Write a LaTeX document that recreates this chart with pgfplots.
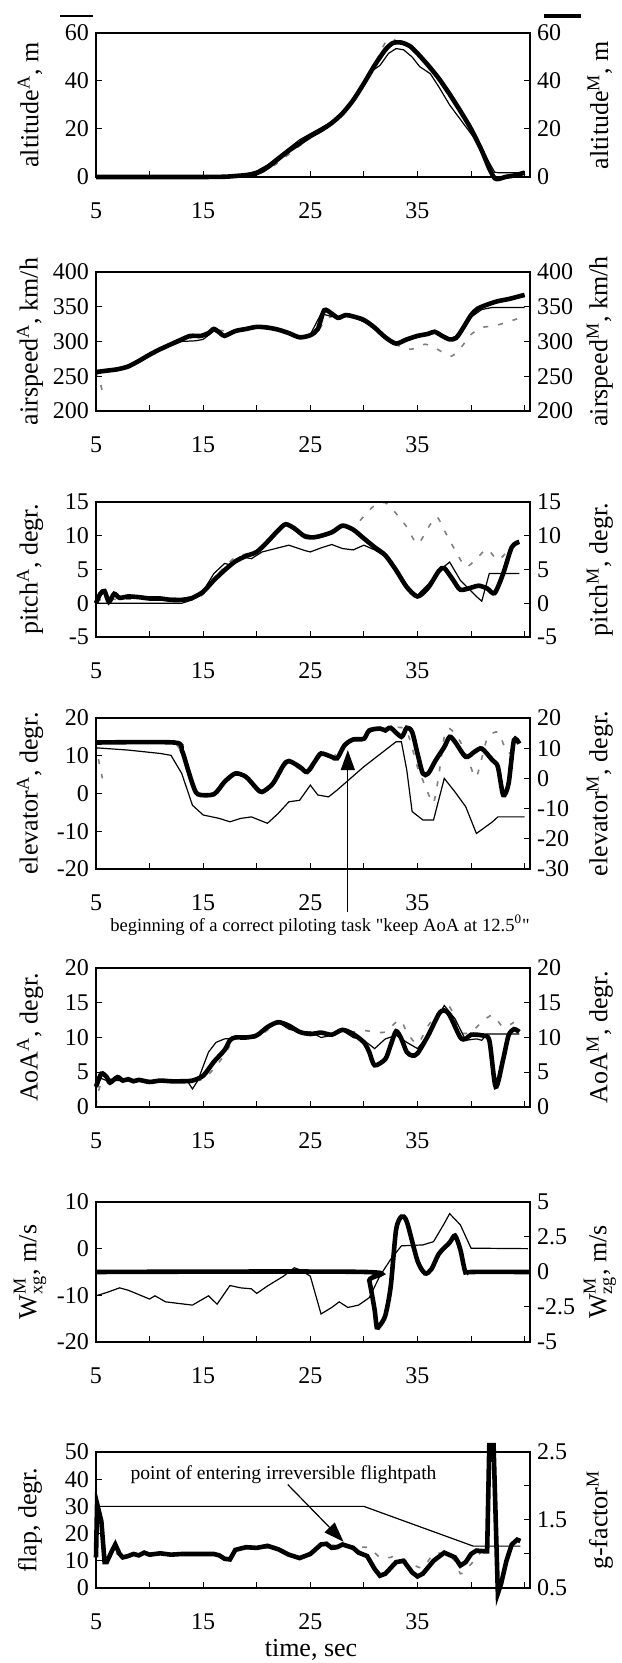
\documentclass[border=0pt]{standalone}
\usepackage{fontspec}
\setmainfont{Liberation Serif}
\usepackage{amsmath}
\usepackage{pgfplots}
\pgfplotsset{compat=1.18}
\usetikzlibrary{arrows.meta}

\pgfplotsset{
  base/.style={scale only axis, width=217pt, anchor=south west,
    xmin=5, xmax=45.5, clip=false, unbounded coords=jump,
    tick align=inside, major tick length=3pt, minor tick length=3pt,
    axis line style={line width=0.6pt},
    every tick/.append style={black, line width=0.5pt},
    ticklabel style={font=\fontsize{12}{14}\selectfont},
    label style={font=\fontsize{13}{15}\selectfont},
    /pgf/number format/assume math mode=true},
  panelL/.style={base, xtick={5,15,25,35}, minor xtick={10,20,30,40,45},
    xtick pos=lower, ytick pos=lower, yticklabel pos=lower,
    xticklabel style={yshift=-9.5pt},
    ylabel style={at={(axis description cs:-0.152,0.5)}, anchor=center}},
  panelR/.style={base, xtick=\empty, ytick pos=upper, yticklabel pos=upper,
    ylabel style={at={(axis description cs:1.161,0.5)}, anchor=center}},
  thickln/.style={black, line width=2.3pt, smooth, tension=0.45},
  thinln/.style={black, line width=0.6pt},
  dashln/.style={gray, line width=0.8pt, dash pattern=on 2.5pt off 5pt, smooth, tension=0.45},
}

\begin{document}
\begin{tikzpicture}

% legend samples above the first panel
\draw[line width=0.6pt] (30pt,823.5pt) -- (46.5pt,823.5pt);
\draw[line width=2.3pt] (272pt,823.5pt) -- (290.5pt,823.5pt);

% ---------- altitude
\begin{axis}[panelL, at={(48pt,743pt)}, height=72pt, ymin=0, ymax=60, ytick={0,20,40,60},
  ylabel={altitude\textsuperscript{A}, m}]
\addplot[dashln] coordinates {(5,0)(17,0)(19,0.5)(20,1)(21,3)(22,6)(23,9.5)(24,13)(25,16.5)(26,19)(27,22)(28,26)(29,31)(30,38)(31,47)(32,56)(32.6,57.5)(33.3,56)(34,54.5)};
\addplot[thinln] coordinates {(5,0)(17,0)(18,0.5)(19,1.2)(20,2.5)(21,5)(22,8.5)(23,12)(24,15.5)(25,18)(26,20.5)(27,23)(28,27)(29,32)(30,38.5)(30.7,44)(31.5,46.5)(32.3,51.5)(33,53.5)(33.7,53)(34.5,50)(35.2,46)(36.2,43)(37,37.5)(38,30)(39,24)(40,18)(41,12)(41.7,6)(42.2,2)(42.5,1.8)(45,1.8)};
\addplot[thickln] coordinates {(5,0)(10,0)(15,0)(17,0.1)(18,0.4)(19,0.8)(20,1.6)(21,4)(22,7.5)(23,11)(24,14)(25,17)(26,19.5)(27,22.5)(28,26.5)(29,32)(30,39)(31,46.5)(32,53)(32.7,55.8)(33.5,56)(34.3,54.5)(35,51.5)(36,46.5)(37,41)(38,34.5)(39,27.5)(40,20)(41,11)(41.7,3.5)(42.2,-0.5)(42.6,-0.8)(43.2,0)(44,0.6)(45,1.8)};
\end{axis}
\begin{axis}[panelR, at={(48pt,743pt)}, height=72pt, ymin=0, ymax=60, ytick={0,20,40,60},
  ylabel={altitude\textsuperscript{M}, m}]
\end{axis}

% ---------- airspeed
\begin{axis}[panelL, at={(48pt,626pt)}, height=69.5pt, ymin=200, ymax=400, ytick={200,250,...,400},
  ylabel={airspeed\textsuperscript{A}, km/h}]
\addplot[dashln] coordinates {(5,258)(5.4,240)(5.7,222)(nan,nan)(6,258)(8,264)(10,280)(12,294)(14,306)(16,316)(18,314)(20,320)(22,316)(24,306)(25.5,312)(26.3,328)(27,336)(29,336)(31,318)(32.5,300)(34,289)(35,291)(35.7,296)(36.5,292)(37.5,283)(38.2,279)(39,290)(40,310)(41,320)(42,322)(43,326)(44,331)(45,336)};
\addplot[thinln] coordinates {(5,256)(7,259)(9,270)(11,289)(13,300)(14.3,301)(15,303)(16,315)(17,308)(18,315)(20,320)(22,317)(24,306)(25,310)(26,340)(27,336)(29,336)(31,320)(33,296)(35,306)(36.6,313)(38,304)(39,310)(40,335)(41,346)(42,349)(45,349)};
\addplot[thickln] coordinates {(5,256)(6,258)(7,260)(8,264)(9,272)(10,281)(11,289)(12,296)(13,303)(13.8,308)(14.8,308)(15.5,312)(16,318)(16.6,312)(17,308)(18,315)(19,318)(20,321)(21,320)(22,317)(23,312)(24,306)(25,309)(25.7,318)(26.3,345)(27,340)(27.6,334)(28.3,338)(29,336)(30,331)(31,320)(32,306)(33,297)(34,303)(35,308)(36,311)(36.6,314)(37.3,308)(38,303)(38.6,305)(39.2,318)(40,338)(40.6,347)(41.5,353)(42.5,358)(43.5,361)(44.5,365)(45,367)};
\end{axis}
\begin{axis}[panelR, at={(48pt,626pt)}, height=69.5pt, ymin=200, ymax=400, ytick={200,250,...,400},
  ylabel={airspeed\textsuperscript{M}, km/h}]
\end{axis}

% ---------- pitch
\begin{axis}[panelL, at={(48pt,513pt)}, height=67.5pt, ymin=-5, ymax=15, ytick={-5,0,...,15},
  ylabel={pitch\textsuperscript{A}, degr.}]
\addplot[dashln] coordinates {(5,0.5)(10,0.7)(14,0.8)(15,1.3)(16,3.5)(17,5.4)(18,6.8)(19,7.3)(20,7.8)(21,9.3)(22,10.8)(22.7,11.5)(24,10.5)(25.5,9.9)(27,10.6)(28,11.4)(29,11.2)(30,12.9)(31,14.5)(32,14.9)(33,13.3)(34,11.3)(35,8.8)(36,11.2)(36.8,12.8)(37.5,10.8)(38.5,7.9)(39.5,5.4)(40.5,6.6)(41.5,8.0)(42.5,6.4)(43.5,7.9)(44.5,9.3)};
\addplot[thinln] coordinates {(5,0)(13,0)(14,0.5)(15,1.8)(16,4.4)(17,5.9)(17.5,5.7)(18.5,6.9)(19.5,6.6)(20.5,7.6)(22,8.2)(23,8.6)(24.5,7.8)(25,7.6)(26,8.2)(27,8.7)(28,8.1)(29,7.9)(30,8.6)(31,7.9)(32,6.9)(33,4.9)(34,2.4)(35,1.2)(36,2.8)(37,4.8)(38,6.1)(39,3.4)(40.5,1.0)(41,0.3)(41.7,4.4)(44.5,4.4)};
\addplot[thickln] coordinates {(5,0)(5.4,1.4)(5.8,1.8)(6.2,0.2)(6.7,1.4)(7.2,0.8)(8,1.0)(9,0.9)(10,0.7)(11,0.7)(12,0.5)(13,0.5)(14,0.8)(15,1.7)(16,3.4)(17,4.9)(18,6.2)(19,7.0)(20,7.6)(21,9.1)(22,10.8)(22.7,11.7)(23.5,11.1)(24.5,9.9)(25.5,9.8)(27,10.5)(28,11.5)(29,10.9)(30,9.6)(31,8.3)(32,7.1)(33,4.9)(34,2.4)(35,1.0)(36,2.3)(37,4.8)(37.5,5.2)(38.3,3.5)(39,2.0)(40,2.3)(40.7,2.6)(41.5,2.2)(42.2,1.5)(43,4.4)(43.8,8.3)(44.5,9.1)};
\end{axis}
\begin{axis}[panelR, at={(48pt,513pt)}, height=67.5pt, ymin=-5, ymax=15, ytick={-5,0,...,15},
  ylabel={pitch\textsuperscript{M}, degr.}]
\end{axis}

% ---------- elevator
\begin{axis}[panelL, at={(48pt,397pt)}, height=75.5pt, ymin=-20, ymax=20, ytick={-20,-10,...,20},
  ylabel={elevator\textsuperscript{A}, degr.}]
\addplot[dashln] coordinates {(5,13)(5.3,8)(5.6,4)(nan,nan)(12.5,13)(13,11)(13.5,8)(14,3)(14.5,0.5)(16,-0.5)(17,2.5)(18,5)(19,4.5)(20,1.5)(21,1)(22,5.5)(23,8)(24,6.5)(25,6)(26,10)(27,9.5)(28,12)(29,14)(30,15)(31,17)(32,17)(33,17.5)(34,16.5)(35,7)(35.5,3.5)(36,0)(36.5,-2.5)(37,5)(37.5,15)(38,17.2)(39,13.7)(39.8,8.4)(40.5,4.4)(41.5,14.5)(42.5,16.3)(43,13.2)(43.5,10.6)(44.5,12.3)};
\addplot[thinln] coordinates {(5,12.1)(8,11.5)(11,10.6)(12,10.1)(13,5.3)(14,-3.1)(15,-5.7)(16.5,-6.6)(17.5,-7.5)(18.5,-6.6)(19.5,-6.2)(21,-7.9)(22,-5.3)(23,-2.2)(24,-1.8)(25,2.2)(25.7,-0.4)(26.7,-0.9)(27.5,0.9)(30,7.1)(32,11.5)(33,13.7)(33.5,13.7)(34,6.2)(34.5,-4.8)(35.5,-7.0)(36.5,-7.0)(37.5,4.0)(38.5,0.4)(39.5,-3.5)(40.5,-10.6)(42,-7.5)(42.5,-6.2)(45,-6.2)};
\addplot[thickln] coordinates {(5,13.5)(12.3,13.5)(13,11.5)(13.5,7.1)(14,2.6)(14.5,-0.2)(16,-0.2)(17,3.1)(18,5.3)(19,4.4)(20,1.3)(20.5,0.4)(21.5,2.6)(22.5,7.5)(23,8.6)(24,7.1)(24.7,5.7)(25.5,8.8)(26,10.6)(27,9.7)(27.5,9.3)(28.2,12.8)(29,14.3)(30,14.5)(30.5,16.7)(31.5,17.2)(32,16.7)(32.5,17.4)(33.5,15)(34,17.4)(34.5,16.3)(35,10.6)(35.5,5.3)(36,5.3)(36.7,8.8)(37.5,12.3)(38,15)(38.5,13.7)(39.5,9.7)(40.3,11)(41,11.9)(42,8.8)(42.5,7.1)(43,-0.4)(43.5,2.6)(44,14.1)(44.5,13.2)};
\draw[line width=0.6pt, -{Triangle[length=10pt,width=7pt]}] (axis cs:28.5,-31.5) -- (axis cs:28.5,11.5);
\node[font=\fontsize{9.3}{11}\selectfont] at (axis cs:25.9,-34.8) {beginning of a correct piloting task \textquotedbl keep AoA at 12.5\textsuperscript{0}\textquotedbl};
\end{axis}
\begin{axis}[panelR, at={(48pt,397pt)}, height=75.5pt, ymin=-30, ymax=20, ytick={-30,-20,...,20},
  ylabel={elevator\textsuperscript{M}, degr.}]
\end{axis}

% ---------- AoA
\begin{axis}[panelL, at={(48pt,278pt)}, height=69.5pt, ymin=0, ymax=20, ytick={0,5,...,20},
  ylabel={AoA\textsuperscript{A}, degr.}]
\addplot[dashln] coordinates {(5,0.2)(5.3,2.6)(6,4)(10,3.7)(14,3.8)(15,4)(16,5.5)(17,7.5)(18,9.8)(20,10)(22,12)(24,11)(26,10.5)(28,11)(29,10.8)(30,11)(31,10.8)(32,10.8)(33,12.2)(33.5,12.4)(34,10.8)(35,9.1)(36,11.7)(37,13.6)(38,14.4)(39,10.8)(40,10.8)(41,12.2)(42,13.2)(43,11.5)(44,12.2)};
\addplot[thinln] coordinates {(5,3.6)(5.5,4.1)(6,3.8)(13.5,3.8)(14,2.6)(14.5,3.8)(15.5,7.9)(16.2,9.3)(17,9.8)(18,9.9)(20,10.3)(22,12.2)(23,11.2)(24,10.8)(25,10.8)(26,10)(27,10.3)(28,11)(29,10)(30,9.6)(31,8.4)(32,9.8)(33,10.3)(34,9.3)(35,8.4)(36,10.3)(37,13.2)(37.5,14.6)(38.5,12.7)(39.5,9.6)(40.5,9.8)(41,9.6)(41.5,10.5)(44.5,10.5)};
\addplot[thickln] coordinates {(5,2.9)(5.5,4.8)(6,4.3)(6.3,3.5)(7,4.3)(7.5,3.8)(8,4.0)(8.5,3.7)(9,3.9)(10,3.6)(11,3.8)(12,3.7)(13,3.7)(14,3.8)(15,4.5)(16,6.5)(17,8.2)(17.5,9.6)(18,10)(19,10)(20,10.3)(21,11.5)(22,12.2)(23,11.7)(24,10.8)(25,10.5)(26,10.7)(27,10.4)(28,11.1)(29,10.5)(30,9.3)(30.5,7.9)(31,6.0)(32,6.9)(32.5,8.9)(33,10.9)(33.5,9.8)(34,7.9)(34.5,7.4)(35,7.7)(36,10.3)(37,13.4)(37.5,13.9)(38,13.2)(39,10)(39.5,9.8)(40,10.4)(41,10.3)(41.7,9.6)(42.3,2.9)(43,6.9)(43.5,10.3)(44,11.2)(44.5,10.8)};
\end{axis}
\begin{axis}[panelR, at={(48pt,278pt)}, height=69.5pt, ymin=0, ymax=20, ytick={0,5,...,20},
  ylabel={AoA\textsuperscript{M}, degr.}]
\end{axis}

% ---------- wind
\begin{axis}[panelL, at={(48pt,160.5pt)}, height=70pt, ymin=-20, ymax=10, ytick={-20,-10,0,10},
  ylabel={$\text{W}_{\text{xg}}^{\text{M}}$, m/s}]
\addplot[thinln] coordinates {(5,-10.1)(6,-9.4)(7.2,-8.4)(8,-8.9)(10,-10.8)(10.5,-10.1)(11.5,-11.4)(14,-12.1)(15.5,-10.1)(16.3,-11.9)(17.5,-7.9)(18.5,-8.4)(19.5,-8.6)(20,-9.6)(21,-8)(22.5,-5.9)(23.5,-4.1)(24,-4.5)(25,-5.9)(26,-14)(27,-12.6)(27.7,-11.4)(28.5,-12.6)(29.5,-12.1)(30.5,-10.5)(31.5,-5.8)(32.5,-2.3)(33.5,0.6)(35.5,0.8)(36.5,1.5)(37.5,5.4)(38,7.5)(39,5.1)(40,0.1)(45.3,0)};
\end{axis}
\begin{axis}[panelR, at={(48pt,160.5pt)}, height=70pt, ymin=-5, ymax=5, ytick={-5,-2.5,0,2.5,5},
  ylabel={$\text{W}_{\text{zg}}^{\text{M}}$, m/s}]
\addplot[thickln] coordinates {(5,0)(30.2,0)(30.5,-0.6)(31,-2.7)(31.2,-3.95)(31.5,-3.8)(32,-3.1)(32.5,-1.05)(33,3.0)(33.5,3.95)(34,3.6)(35,0.8)(35.7,-0.1)(36.3,0.2)(37,1.3)(38,2.1)(38.5,2.6)(39,1.6)(39.5,-0.1)(40,0)(45.5,0)};
\end{axis}

% ---------- flap / g-factor
\begin{axis}[panelL, at={(48pt,37.5pt)}, height=68pt, ymin=0, ymax=50, ytick={0,10,...,50},
  ylabel={flap, degr.}]
\addplot[thinln] coordinates {(5,10)(5.05,30)(30,30)(40.2,15.4)(44.6,15.4)};
\draw[line width=0.6pt, -{Triangle[length=10pt,width=7pt]}] (axis cs:22.9,38) -- (axis cs:28.1,17);
\node[font=\fontsize{9.8}{11}\selectfont] at (axis cs:22.5,41.5) {point of entering irreversible flightpath};
\end{axis}
\begin{axis}[panelR, at={(48pt,37.5pt)}, height=68pt, ymin=0.5, ymax=2.5, ytick={0.5,1.5,2.5}, minor ytick={1,2},
  ylabel={g-factor\textsuperscript{M}}]
\addplot[dashln] coordinates {(5.2,1.75)(5.5,1.4)(5.8,1.1)(6,0.9)(6.5,1.05)(7,1.0)(10,1.0)(15,1.0)(17,0.94)(18,1.05)(20,1.09)(22,1.07)(24,0.94)(26,1.12)(28,1.12)(29.5,1.1)(30.5,1.09)(31.5,0.95)(32.5,0.95)(33,0.97)(34.5,0.85)(35.5,0.8)(36.5,1.0)(37.5,1.0)(38.5,0.9)(39,0.71)(39.5,0.78)(40,0.85)(41,1.04)(41.5,1.04)};
\addplot[black, line width=2.3pt] coordinates {(5,0.95)(5.1,1.74)(5.5,1.48)(5.8,0.88)(6,0.88)(6.5,1.05)(6.8,1.14)(7.2,1.0)(7.5,0.95)(8,0.97)(8.5,1.0)(9,0.98)(9.5,1.02)(10,0.99)(11,1.01)(12,0.99)(13,1.0)(14,1.0)(15,1.0)(16,1.0)(16.5,0.98)(17,0.93)(17.5,0.92)(18,1.06)(19,1.1)(20,1.09)(21,1.12)(22,1.07)(23,0.99)(24,0.94)(25,1.0)(26,1.14)(26.5,1.15)(27,1.09)(27.5,1.1)(28,1.14)(29,1.09)(29.5,1.02)(30.3,0.97)(31,0.78)(31.5,0.68)(32,0.71)(33,0.88)(33.7,0.9)(34.5,0.73)(35,0.67)(35.5,0.71)(36.5,0.9)(37.5,1.02)(38.5,0.95)(39,0.83)(39.5,0.88)(40,1.0)(40.5,1.05)(41.2,1.04)(41.5,1.04)(41.7,2.6)(42.1,2.6)(42.5,0.42)(42.8,0.56)(43.3,0.9)(43.8,1.14)(44.3,1.21)(44.6,1.19)};
\end{axis}

\node[font=\fontsize{13}{15}\selectfont] at (155.5pt,6.5pt) {time, sec};

% fix the page to the reference frame
\pgfresetboundingbox
\useasboundingbox (0,0) rectangle (310.5pt,831.5pt);
\end{tikzpicture}
\end{document}
